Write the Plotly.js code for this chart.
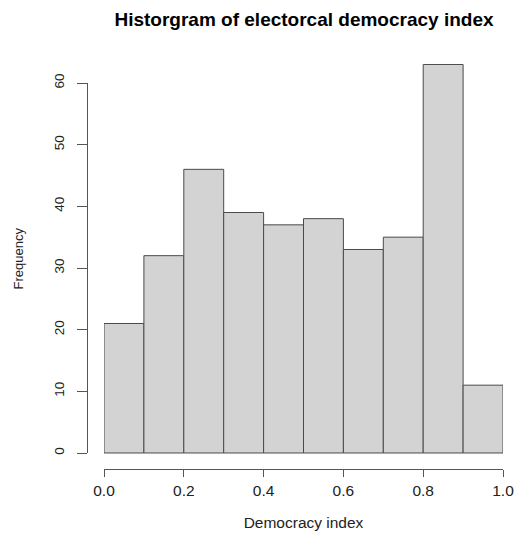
<!DOCTYPE html>
<html><head><meta charset="utf-8">
<script src="https://cdn.plot.ly/plotly-3.0.1.min.js"></script>
<style>html,body{margin:0;padding:0;background:#fff}</style>
</head><body><div id="chart" style="width:516px;height:534px"></div>
<script>
// ---- data ----
const binStarts = [0.0, 0.1, 0.2, 0.3, 0.4, 0.5, 0.6, 0.7, 0.8, 0.9];
const counts = [21, 32, 46, 39, 37, 38, 33, 35, 63, 11];
const binWidth = 0.1;
const xTickVals = [0, 0.2, 0.4, 0.6, 0.8, 1.0];
const xTickText = ['0.0', '0.2', '0.4', '0.6', '0.8', '1.0'];
const yTickVals = [0, 10, 20, 30, 40, 50, 60];
const titleText = 'Historgram of electorcal democracy index';
const xTitle = 'Democracy index';
const yTitle = 'Frequency';

// ---- layout helpers (pixel -> paper) ----
const W = 516, H = 534;
const px = v => v / W;
const py = v => 1 - v / H;
const FONT = 'Liberation Sans, Arial, Helvetica, sans-serif';
const ink = '#222';
const axisCol = '#555';

const bars = {
  type: 'bar',
  x: binStarts,
  y: counts,
  width: binStarts.map(() => binWidth),
  offset: 0,
  marker: { color: '#d3d3d3', line: { color: '#4a4a4a', width: 1 } },
  hoverinfo: 'x+y',
  showlegend: false
};
// empty traces so that the two axis-only subplots are drawn
const xAxisHolder = { type: 'scatter', mode: 'markers', x: [], y: [], xaxis: 'x2', yaxis: 'y2', showlegend: false, hoverinfo: 'skip' };
const yAxisHolder = { type: 'scatter', mode: 'markers', x: [], y: [], xaxis: 'x3', yaxis: 'y3', showlegend: false, hoverinfo: 'skip' };

const layout = {
  width: W, height: H,
  margin: { l: 0, r: 0, t: 0, b: 0 },
  paper_bgcolor: '#fff', plot_bgcolor: 'rgba(0,0,0,0)',
  font: { family: FONT, color: ink },
  bargap: 0,
  title: {
    text: titleText,
    font: { family: FONT, size: 19, weight: 'bold', color: '#000' },
    x: px(304), xanchor: 'center', xref: 'paper',
    y: py(19), yanchor: 'middle', yref: 'container'
  },
  xaxis: {
    domain: [px(104), px(503)], range: [0, 1],
    showline: false, showgrid: false, zeroline: false,
    showticklabels: false, ticks: '', anchor: 'y'
  },
  yaxis: {
    domain: [py(468.54), py(48.95)], range: [-2.52, 65.52],
    showline: false, showgrid: false, zeroline: false,
    showticklabels: false, ticks: '', anchor: 'x',
    title: { text: yTitle, font: { size: 13, color: ink }, standoff: 76 }
  },
  xaxis2: {
    domain: [px(104), px(503)], range: [0, 1], anchor: 'y2',
    showline: true, linecolor: axisCol, linewidth: 1,
    ticks: 'outside', ticklen: 7, tickcolor: axisCol, tickwidth: 1,
    tickvals: xTickVals, ticktext: xTickText,
    tickfont: { size: 15.5, color: ink },
    showgrid: false, zeroline: false, fixedrange: true,
    title: { text: xTitle, font: { size: 15.5, color: ink }, standoff: 19 }
  },
  yaxis2: {
    domain: [py(469), py(460)], range: [0, 1], anchor: 'x2',
    visible: false, fixedrange: true
  },
  xaxis3: {
    domain: [px(88), px(96)], range: [0, 1], anchor: 'y3',
    visible: false, fixedrange: true
  },
  yaxis3: {
    domain: [py(453), py(83)], range: [0, 60], anchor: 'x3',
    showline: true, linecolor: axisCol, linewidth: 1,
    ticks: 'outside', ticklen: 10, tickcolor: axisCol, tickwidth: 1,
    tickvals: yTickVals, tickangle: -90, ticklabelstandoff: 8,
    tickfont: { size: 13.5, color: ink },
    showgrid: false, zeroline: false, fixedrange: true
  }
};

Plotly.newPlot('chart', [bars, xAxisHolder, yAxisHolder], layout, { displayModeBar: false, staticPlot: true });
</script>
</body></html>
